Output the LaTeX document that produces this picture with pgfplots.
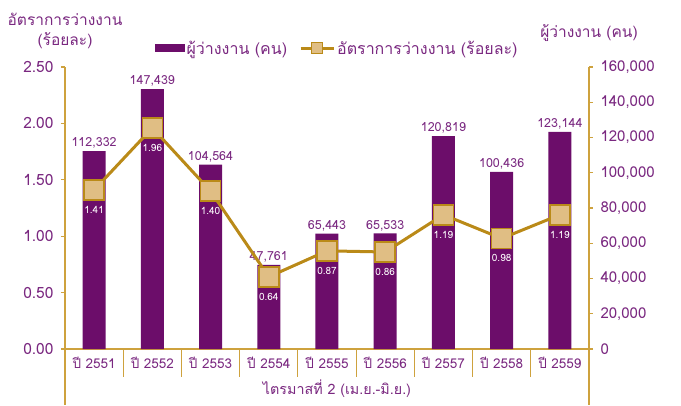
\documentclass[border=0pt]{standalone}
\usepackage{fontspec}
\setmainfont[Script=Thai]{Loma}
\usepackage{pgfplots}
\usepackage{pgfplotstable}
\pgfplotsset{compat=1.18}

\definecolor{barpurple}{RGB}{108,13,106}
\definecolor{txtpurple}{RGB}{122,40,128}
\definecolor{linegold}{RGB}{186,138,24}
\definecolor{axisgold}{RGB}{206,162,62}
\definecolor{markfill}{RGB}{224,190,132}

% x, unemployed persons (right axis), unemployment rate % (left axis)
\pgfplotstableread{
x unemp rate
0 112332 1.41
1 147439 1.96
2 104564 1.40
3 47761 0.64
4 65443 0.87
5 65533 0.86
6 120819 1.19
7 100436 0.98
8 123144 1.19
}\data

\pgfplotsset{
  common/.style={
    at={(65pt,56pt)}, anchor=south west,
    scale only axis, width=524pt, height=282pt,
    xmin=-0.5, xmax=8.5, clip=false,
    axis line style={axisgold, line width=1.2pt},
    major tick length=4pt, tick align=outside,
    ytick style={axisgold, line width=1.2pt},
    yticklabel style={txtpurple, font=\fontsize{15.5}{16}\selectfont},
    /pgf/number format/assume math mode=true,
  },
}

\begin{document}
\begin{tikzpicture}
\useasboundingbox (0,0) rectangle (681pt,405pt);

% bars: unemployed persons, right axis
\begin{axis}[common,
  ymin=0, ymax=160000,
  axis y line*=right, axis x line*=bottom,
  ytick={0,20000,...,160000},
  scaled y ticks=false,
  yticklabel style={/pgf/number format/fixed, /pgf/number format/1000 sep={,}, xshift=4pt,
    font=\fontsize{15}{16}\selectfont},
  xtick={0,...,8},
  xticklabels={ปี 2551,ปี 2552,ปี 2553,ปี 2554,ปี 2555,ปี 2556,ปี 2557,ปี 2558,ปี 2559},
  xtick style={draw=none},
  xticklabel style={txtpurple, font=\fontsize{13.5}{14}\selectfont, yshift=-1pt},
]
\addplot[ybar, bar width=23pt, fill=barpurple, draw=none,
  nodes near coords,
  nodes near coords style={txtpurple, font=\fontsize{12.5}{13}\selectfont,
    /pgf/number format/fixed, /pgf/number format/1000 sep={,}, yshift=-1pt}]
  table[x=x, y=unemp] {\data};
\pgfplotsinvokeforeach{0.5,1.5,...,7.5}{
  \draw[axisgold, line width=1.2pt] (axis cs:#1,0) -- ([yshift=-28pt]axis cs:#1,0);
}
\draw[axisgold, line width=1.2pt] (rel axis cs:0,0) -- ([yshift=-56pt]rel axis cs:0,0);
\draw[axisgold, line width=1.2pt] (rel axis cs:1,0) -- ([yshift=-56pt]rel axis cs:1,0);
\end{axis}

% line: unemployment rate, left axis
\begin{axis}[common,
  ymin=0, ymax=2.5,
  axis y line*=left, axis x line=none,
  ytick={0,0.5,...,2.5},
  yticklabel style={/pgf/number format/fixed, /pgf/number format/fixed zerofill,
    /pgf/number format/precision=2, xshift=-4pt},
  legend style={at={(0.166,1.067)}, anchor=west, draw=none, fill=none,
    font=\fontsize{16}{17}\selectfont, text=txtpurple,
    /tikz/every even column/.append style={column sep=10pt}},
  legend columns=2,
]
\addlegendimage{legend image code/.code={\fill[barpurple] (0pt,-3.5pt) rectangle (29pt,3.5pt);}}
\addlegendentry{ผู้ว่างงาน (คน)}
\addlegendimage{legend image code/.code={
  \draw[linegold, line width=3pt] (0pt,0pt) -- (33pt,0pt);
  \draw[linegold, fill=markfill, line width=1.2pt] (11pt,-5.5pt) rectangle (22pt,5.5pt);}}
\addlegendentry{อัตราการว่างงาน (ร้อยละ)}
\addplot[forget plot, linegold, line width=3pt, mark=square*, mark size=10pt,
  mark options={fill=markfill, draw=linegold, line width=1.5pt},
  nodes near coords,
  nodes near coords style={white, font=\fontsize{10}{11}\selectfont, anchor=north, yshift=-12pt,
    /pgf/number format/fixed, /pgf/number format/fixed zerofill, /pgf/number format/precision=2}]
  table[x=x, y=rate] {\data};
\end{axis}

\node[txtpurple, align=center, font=\fontsize{15.5}{20}\selectfont] at (65pt,374pt) {อัตราการว่างงาน\\(ร้อยละ)};
\node[txtpurple, font=\fontsize{15.5}{16}\selectfont] at (589pt,372pt) {ผู้ว่างงาน (คน)};
\node[txtpurple, font=\fontsize{14.3}{15}\selectfont] at (337pt,16pt) {ไตรมาสที่ 2 (เม.ย.-มิ.ย.)};
\end{tikzpicture}
\end{document}
